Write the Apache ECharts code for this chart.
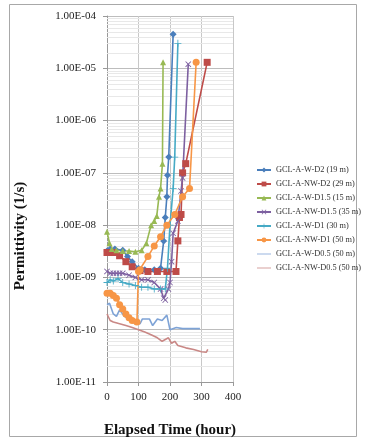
<!DOCTYPE html>
<html>
<head>
<meta charset="utf-8">
<script src="https://cdn.jsdelivr.net/npm/echarts@6/dist/echarts.min.js"></script>
<style>
  html, body { margin: 0; padding: 0; background: #fff; }
  #chart { width: 370px; height: 440px; }
</style>
</head>
<body>
<div id="chart"></div>
<script>
// elapsed time (hour) and permittivity (1/s) for each specimen
const wD2Hours = [0, 10, 25, 50, 65, 80, 100, 120, 150, 170, 180, 185, 190, 192, 196, 210];
const wD2Perm = [3.2e-9, 3.5e-9, 3.5e-9, 3.3e-9, 2.5e-9, 2e-9, 1.5e-9, 1.4e-9, 1.4e-9, 1.5e-9, 5e-9, 1.4e-8, 3.5e-8, 9e-8, 2e-7, 4.5e-5];

const nwD2Hours = [0, 10, 20, 40, 60, 80, 105, 130, 160, 190, 219, 225, 230, 235, 240, 250, 318];
const nwD2Perm = [3e-9, 3e-9, 3e-9, 2.6e-9, 2e-9, 1.6e-9, 1.35e-9, 1.3e-9, 1.3e-9, 1.3e-9, 1.3e-9, 5e-9, 1.4e-8, 1.6e-8, 1e-7, 1.5e-7, 1.3e-5];

const wD15Hours = [0, 8, 15, 30, 50, 70, 90, 110, 125, 140, 150, 158, 165, 170, 176, 178];
const wD15Perm = [7.5e-9, 4.5e-9, 3.5e-9, 3.3e-9, 3.2e-9, 3.2e-9, 3.1e-9, 3.3e-9, 4.5e-9, 1e-8, 1.2e-8, 1.5e-8, 3.5e-8, 5e-8, 1.5e-7, 1.3e-5];

const nwD15Hours = [0, 10, 20, 30, 40, 50, 70, 90, 110, 130, 150, 170, 180, 185, 195, 200, 205, 210, 225, 235, 240, 258];
const nwD15Perm = [1.3e-9, 1.2e-9, 1.2e-9, 1.2e-9, 1.2e-9, 1.2e-9, 1.1e-9, 1e-9, 9e-10, 9e-10, 8e-10, 6e-10, 4e-10, 3.7e-10, 6e-10, 8e-10, 2e-9, 7e-9, 1.2e-8, 4.5e-8, 8e-8, 1.2e-5];

const wD1Hours = [0, 10, 20, 35, 50, 70, 90, 110, 130, 150, 170, 185, 192, 200, 210, 215, 225];
const wD1Perm = [8e-10, 9e-10, 8.5e-10, 9.5e-10, 8e-10, 7.5e-10, 7e-10, 6.5e-10, 6.5e-10, 6e-10, 6e-10, 6e-10, 1.5e-9, 1e-8, 5e-8, 2e-7, 3e-5];

const nwD1Hours = [0, 10, 20, 30, 40, 50, 60, 70, 80, 95, 100, 105, 130, 150, 170, 190, 215, 240, 262, 283];
const nwD1Perm = [5e-10, 5e-10, 4.5e-10, 4e-10, 3e-10, 2.5e-10, 2e-10, 1.7e-10, 1.5e-10, 1.4e-10, 1.3e-9, 1.4e-9, 2.5e-9, 4e-9, 6e-9, 1e-8, 1.6e-8, 3.5e-8, 5e-8, 1.3e-5];

const wD05Hours = [0, 8, 20, 30, 40, 55, 70, 90, 105, 112, 135, 145, 160, 175, 190, 200, 220, 240, 260, 295];
const wD05Perm = [3e-10, 3.2e-10, 2e-10, 1.8e-10, 2.4e-10, 1.8e-10, 1.6e-10, 1.3e-10, 1.3e-10, 1.6e-10, 1.6e-10, 1.2e-10, 1.6e-10, 1.5e-10, 1.9e-10, 1e-10, 1.1e-10, 1.05e-10, 1.05e-10, 1.05e-10];

const nwD05Hours = [0, 10, 20, 40, 60, 80, 100, 120, 140, 160, 175, 185, 195, 205, 215, 225, 250, 275, 300, 315, 320];
const nwD05Perm = [2e-10, 1.5e-10, 1.4e-10, 1.3e-10, 1.2e-10, 1.1e-10, 1e-10, 9e-11, 8e-11, 7e-11, 6e-11, 6.5e-11, 7e-11, 5.5e-11, 6e-11, 5e-11, 4.5e-11, 4.2e-11, 3.8e-11, 3.7e-11, 4.2e-11];

const seriesNames = [
  'GCL-A-W-D2 (19 m)', 'GCL-A-NW-D2 (29 m)', 'GCL-A-W-D1.5 (15 m)', 'GCL-A-NW-D1.5 (35 m)',
  'GCL-A-W-D1 (30 m)', 'GCL-A-NW-D1 (50 m)', 'GCL-A-W-D0.5 (50 m)', 'GCL-A-NW-D0.5 (50 m)'
];
const hourSets = [wD2Hours, nwD2Hours, wD15Hours, nwD15Hours, wD1Hours, nwD1Hours, wD05Hours, nwD05Hours];
const permSets = [wD2Perm, nwD2Perm, wD15Perm, nwD15Perm, wD1Perm, nwD1Perm, wD05Perm, nwD05Perm];
const xTicks = [0, 100, 200, 300, 400];

const colors = ['#4a7ebb', '#be4b48', '#98b954', '#7d60a0', '#46aac5', '#f79646', '#7ea3d6', '#c98886'];
const xSymbol = 'path://M0,1L1,0L5,4L9,0L10,1L6,5L10,9L9,10L5,6L1,10L0,9L4,5Z';
const starSymbol = 'path://M4.4,0H5.6V4.4H10V5.6H5.6V10H4.4V5.6H0V4.4H4.4Z';
const symbols = ['diamond', 'rect', 'triangle', xSymbol, starSymbol, 'circle', 'none', 'none'];
const symbolSizes = [7, 7, 6, 6, 7, 7, 0, 0];
const lineIcon = 'path://M0,0L0,0M0,2.6L14,2.6L14,3.4L0,3.4ZM14,6L14,6';

// Excel style minor log gridlines (2..9 x 10^n)
const minorGrid = [];
for (let e = -11; e < -4; e++) {
  for (let m = 2; m <= 9; m++) minorGrid.push([m * Math.pow(10, e)]);
}

const chart = echarts.init(document.getElementById('chart'));

const series = seriesNames.map((name, i) => ({
  name: name,
  type: 'line',
  data: hourSets[i].map((h, j) => [h, permSets[i][j]]),
  symbol: symbols[i],
  symbolSize: symbolSizes[i],
  showSymbol: symbols[i] !== 'none',
  lineStyle: { width: 1.6, color: colors[i] },
  itemStyle: { color: colors[i] },
  z: 3
}));

series.push({
  type: 'custom',
  silent: true,
  z: 1,
  data: minorGrid,
  encode: { y: 0 },
  renderItem: (params, api) => {
    const v = api.value(0);
    const a = api.coord([xTicks[0], v]);
    const b = api.coord([xTicks[xTicks.length - 1], v]);
    return {
      type: 'line',
      shape: { x1: a[0], y1: Math.round(a[1]) + 0.5, x2: b[0], y2: Math.round(b[1]) + 0.5 },
      style: { stroke: '#e8e8e8', lineWidth: 1 }
    };
  }
});

const fmtExp = v => {
  const e = Math.round(Math.log10(v));
  return '1.00E' + (e < 0 ? '-' : '+') + String(Math.abs(e)).padStart(2, '0');
};

chart.setOption({
  animation: false,
  backgroundColor: '#fff',
  textStyle: { fontFamily: 'Liberation Serif' },
  grid: { left: 107, right: 137, top: 16, bottom: 58, containLabel: false, outerBoundsMode: 'none' },
  legend: {
    data: seriesNames.map((n, i) => (symbols[i] === 'none' ? { name: n, icon: lineIcon } : { name: n })),
    orient: 'vertical',
    left: 251,
    top: 161,
    itemWidth: 14,
    itemHeight: 6,
    itemGap: 6,
    textStyle: { fontSize: 8.3, color: '#333', fontFamily: 'Liberation Serif' }
  },
  xAxis: {
    type: 'value',
    min: xTicks[0],
    max: xTicks[xTicks.length - 1],
    interval: 100,
    name: 'Elapsed Time (hour)',
    nameLocation: 'middle',
    nameGap: 41,
    nameTextStyle: { fontSize: 15, fontWeight: 'bold', color: '#111', fontFamily: 'Liberation Serif' },
    axisLine: { lineStyle: { color: '#999' } },
    axisTick: { show: true, length: 4, lineStyle: { color: '#999' } },
    axisLabel: { fontSize: 11, color: '#222', margin: 10 },
    splitLine: { show: true, lineStyle: { color: '#c8c8c8' } }
  },
  yAxis: {
    type: 'log',
    logBase: 10,
    min: 1e-11,
    max: 1e-4,
    axisLine: { show: true, lineStyle: { color: '#999' } },
    axisTick: { show: true, length: 4, lineStyle: { color: '#999' } },
    axisLabel: { fontSize: 11, color: '#222', margin: 11, formatter: fmtExp },
    splitLine: { show: true, lineStyle: { color: '#bdbdbd' } }
  },
  graphic: [
    {
      type: 'rect',
      shape: { x: 9.5, y: 4.5, width: 347, height: 432 },
      style: { fill: null, stroke: '#a8a8a8', lineWidth: 1 },
      silent: true
    },
    {
      type: 'text',
      x: 20,
      y: 236,
      rotation: Math.PI / 2,
      style: {
        text: 'Permittivity (1/s)',
        fontSize: 15,
        fontWeight: 'bold',
        fontFamily: 'Liberation Serif',
        fill: '#111',
        align: 'center',
        verticalAlign: 'middle'
      }
    }
  ],
  series: series
});
</script>
</body>
</html>
